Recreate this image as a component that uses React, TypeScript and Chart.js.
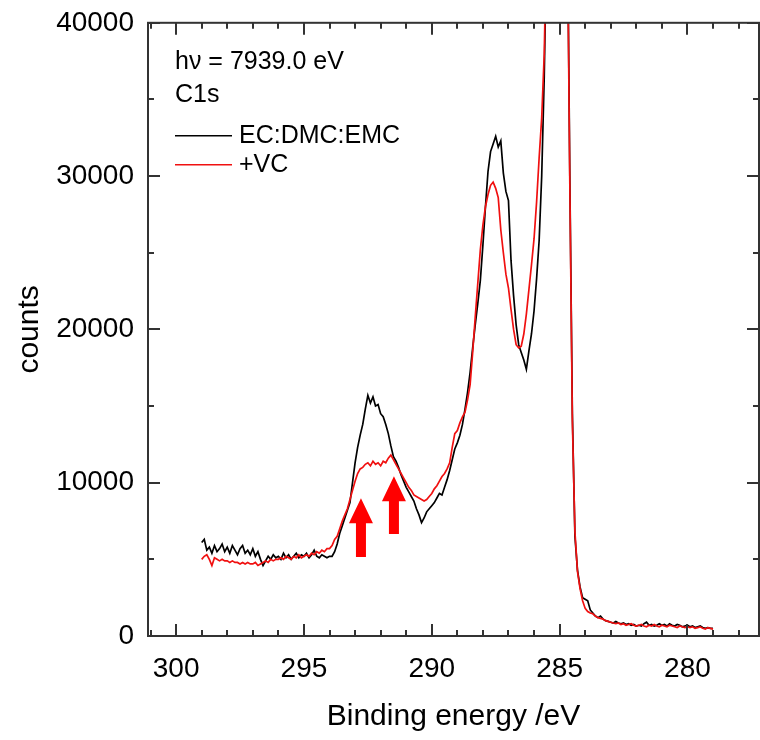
import { useEffect, useRef } from "react";
import { Chart, registerables } from "chart.js";

Chart.register(...registerables);

// Sampling grid of the spectra (binding energy, eV)
const ENERGY_START = 299.0;
const ENERGY_STEP = 0.1;

// EC:DMC:EMC (black)
const COUNTS_EC_DMC_EMC = [
  6100, 6300, 5600, 5800, 5400, 5900, 5500, 5700, 6000, 5500,
  5800, 5400, 5900, 5600, 5300, 5700, 5900, 5400, 5600, 5300,
  5700, 5200, 5500, 5000, 4600, 4900, 5200, 5000, 5300, 5100,
  5200, 5000, 5400, 5100, 5300, 5000, 5200, 5400, 5100, 5300,
  5200, 5400, 5100, 5300, 5600, 5200, 5100, 5300, 5200, 5100,
  5200, 5200, 5500, 6000, 6700, 7200, 7700, 8200, 8700, 10000,
  11300, 12300, 13100, 13800, 14800, 15700, 15200, 15600, 15000, 15100,
  14500, 14300, 13800, 13200, 12400, 11700, 11400, 11000, 10500, 10100,
  9700, 9400, 9100, 8800, 8300, 7900, 7400, 7700, 8100, 8300,
  8500, 8700, 9000, 9300, 9200, 9700, 10200, 10800, 11500, 12200,
  12600, 13100, 13800, 14800, 15900, 17200, 18800, 20300, 21700, 23200,
  25500, 28000, 30300, 31600, 32100, 32600, 31900, 32300, 30200, 29000,
  28400, 24500, 22200, 20300, 19000, 18500, 18000, 17400, 18600, 19700,
  21200, 23300, 25800, 30000, 36500, 46000, 60000, 75000, 88000, 95000,
  97000, 85000, 68000, 48000, 30000, 14500, 6500, 4300, 3200, 2500,
  2400, 2300, 1700, 1500, 1300, 1200, 1300, 1100, 1000, 950,
  900, 850, 950, 850, 800, 850, 750, 800, 700, 750,
  650, 700, 650, 800, 900, 700, 750, 650, 700, 800,
  700, 750, 650, 800, 700, 650, 750, 700, 600, 650,
  700, 600, 650, 550, 600, 650, 550, 500, 550, 500,
  500,
];

// +VC (red)
const COUNTS_VC = [
  5000, 5200, 5300, 5000, 4600, 5100, 5000, 4900, 5000, 4900,
  4900, 4800, 4900, 4800, 4800, 4700, 4800, 4700, 4800, 4700,
  4700, 4800, 4600, 4700, 4800, 4900, 4800, 5000, 4900, 5000,
  5000, 5100, 5000, 5200, 5100, 5000, 5200, 5100, 5300, 5100,
  5200, 5300, 5200, 5400, 5300, 5500, 5400, 5600, 5500, 5700,
  5700, 5900, 6300, 6500, 7000, 7500, 7900, 8300, 8900, 9500,
  10100, 10600, 10900, 11000, 11200, 11300, 11100, 11400, 11200, 11300,
  11100, 11400, 11300, 11600, 11800, 11500, 11200, 10900, 10600, 10300,
  10000, 9700, 9500, 9200, 9100, 9000, 8900, 8800, 8900, 9100,
  9300, 9600, 9800, 10100, 10400, 10600, 10900, 11300, 12300, 13200,
  13400, 13900, 14300, 14600, 15400, 16400, 18500, 20800, 23000, 25200,
  26800, 28000, 28800, 29400, 29600, 29200, 28600, 26500, 25000, 23600,
  22700, 21300, 20000, 19000, 18800, 18900, 19700, 21000, 22600, 24200,
  25900, 28300, 31200, 33800, 38000, 47000, 62000, 77000, 88000, 94000,
  96000, 84000, 67000, 47000, 29500, 14000, 6800, 4200, 3100, 2300,
  1800, 1600, 1500, 1450, 1300, 1200, 1150, 1100, 1000, 950,
  900, 850, 800, 850, 750, 800, 700, 750, 800, 700,
  650, 700, 750, 650, 600, 700, 650, 750, 650, 600,
  700, 650, 600, 700, 650, 600, 550, 650, 600, 550,
  600, 550, 600, 500, 550, 600, 500, 450, 550, 500,
  450,
];

const ENERGIES = COUNTS_EC_DMC_EMC.map((_, i) => +(ENERGY_START - i * ENERGY_STEP).toFixed(2));

const X_RANGE = [277.2, 301.1];
const Y_RANGE = [0, 40000];
const X_MAJOR_TICKS = [300, 295, 290, 285, 280];
const Y_MAJOR_TICKS = [0, 10000, 20000, 30000, 40000];

const SERIES_LABELS = ["EC:DMC:EMC", "+VC"];
const SERIES_COLORS = ["#000000", "#f01010"];
const ANNOTATION_LINES = ["h\u03bd = 7939.0 eV", "C1s"];

// Arrows (energy, base count, tip count)
const ARROW_ENERGIES = [292.77, 291.48];
const ARROW_BASE_COUNTS = [5150, 6650];
const ARROW_TIP_COUNTS = [8990, 10420];

const FONT = '"Liberation Sans", Arial, Helvetica, sans-serif';

const framePlugin = {
  id: "frame",
  afterDraw(chart: any) {
    const { ctx, chartArea: a, scales } = chart;
    const x = scales.x;
    const y = scales.y;
    ctx.save();
    ctx.strokeStyle = "#333333";
    ctx.lineWidth = 2;
    ctx.lineCap = "butt";
    ctx.strokeRect(a.left, a.top, a.right - a.left, a.bottom - a.top);
    const seg = (x1: number, y1: number, x2: number, y2: number) => {
      ctx.beginPath();
      ctx.moveTo(x1, y1);
      ctx.lineTo(x2, y2);
      ctx.stroke();
    };
    for (let v = Math.ceil(x.min); v <= x.max; v++) {
      const px = Math.round(x.getPixelForValue(v));
      const len = v % 5 === 0 ? 12 : 6;
      seg(px, a.bottom, px, a.bottom - len);
      seg(px, a.top, px, a.top + len);
    }
    for (let v = y.min; v <= y.max; v += 5000) {
      const py = Math.round(y.getPixelForValue(v));
      const len = v % 10000 === 0 ? 12 : 6;
      seg(a.left, py, a.left + len, py);
      seg(a.right, py, a.right - len, py);
    }
    ctx.restore();
  },
};

const annotationPlugin = {
  id: "annotations",
  afterDatasetsDraw(chart: any) {
    const { ctx, chartArea: a, scales } = chart;
    const x = scales.x;
    const y = scales.y;
    ctx.save();
    // arrows
    ctx.fillStyle = "#ff0000";
    const headLen = 25;
    const headHalf = 12;
    const shaftHalf = 5;
    ARROW_ENERGIES.forEach((e, i) => {
      const px = x.getPixelForValue(e);
      const yb = y.getPixelForValue(ARROW_BASE_COUNTS[i]);
      const yt = y.getPixelForValue(ARROW_TIP_COUNTS[i]);
      const yh = yt + headLen;
      ctx.beginPath();
      ctx.moveTo(px - shaftHalf, yb);
      ctx.lineTo(px - shaftHalf, yh);
      ctx.lineTo(px - headHalf, yh);
      ctx.lineTo(px, yt);
      ctx.lineTo(px + headHalf, yh);
      ctx.lineTo(px + shaftHalf, yh);
      ctx.lineTo(px + shaftHalf, yb);
      ctx.closePath();
      ctx.fill();
    });
    // text annotations and legend
    ctx.font = `25px ${FONT}`;
    ctx.textBaseline = "middle";
    ctx.textAlign = "left";
    ctx.fillStyle = "#000000";
    const tx = a.left + 27;
    ctx.fillText(ANNOTATION_LINES[0], tx, a.top + 39);
    ctx.fillText(ANNOTATION_LINES[1], tx, a.top + 72);
    SERIES_LABELS.forEach((label, i) => {
      const ly = a.top + 113 + i * 29;
      ctx.strokeStyle = SERIES_COLORS[i];
      ctx.lineWidth = 1.5;
      ctx.beginPath();
      ctx.moveTo(tx, ly);
      ctx.lineTo(tx + 57, ly);
      ctx.stroke();
      ctx.fillStyle = "#000000";
      ctx.fillText(label, tx + 64, ly);
    });
    ctx.restore();
  },
};

export default function App() {
  const canvasRef = useRef<HTMLCanvasElement | null>(null);

  useEffect(() => {
    if (!canvasRef.current) return;
    const chart = new Chart(canvasRef.current, {
      type: "line",
      data: {
        datasets: [
          {
            label: SERIES_LABELS[1],
            data: ENERGIES.map((e, i) => ({ x: e, y: COUNTS_VC[i] })),
            borderColor: SERIES_COLORS[1],
            borderWidth: 1.7,
            pointRadius: 0,
            tension: 0,
            order: 0,
          },
          {
            label: SERIES_LABELS[0],
            data: ENERGIES.map((e, i) => ({ x: e, y: COUNTS_EC_DMC_EMC[i] })),
            borderColor: SERIES_COLORS[0],
            borderWidth: 1.7,
            pointRadius: 0,
            tension: 0,
            order: 1,
          },
        ],
      },
      options: {
        animation: false,
        responsive: false,
        devicePixelRatio: 1,
        layout: { padding: { top: 12, right: 1, left: 0, bottom: 0 } },
        plugins: {
          legend: { display: false },
          tooltip: { enabled: false },
        },
        scales: {
          x: {
            type: "linear",
            reverse: true,
            min: X_RANGE[0],
            max: X_RANGE[1],
            grid: { display: false },
            border: { display: false },
            afterBuildTicks: (s: any) => {
              s.ticks = X_MAJOR_TICKS.map((v) => ({ value: v }));
            },
            afterFit: (s: any) => {
              s.height = 104;
            },
            ticks: {
              autoSkip: false,
              maxRotation: 0,
              padding: 8,
              color: "#000000",
              font: { family: FONT, size: 28 },
              callback: (v: any) => String(v),
            },
            title: {
              display: true,
              text: "Binding energy /eV",
              color: "#000000",
              font: { family: FONT, size: 30 },
              padding: { top: 0, bottom: 5 },
            },
          },
          y: {
            type: "linear",
            min: Y_RANGE[0],
            max: Y_RANGE[1],
            grid: { display: false },
            border: { display: false },
            afterBuildTicks: (s: any) => {
              s.ticks = Y_MAJOR_TICKS.map((v) => ({ value: v }));
            },
            afterFit: (s: any) => {
              s.width = 148;
            },
            ticks: {
              autoSkip: false,
              padding: 6,
              color: "#000000",
              font: { family: FONT, size: 28 },
              callback: (v: any) => String(v),
            },
            title: {
              display: true,
              text: "counts",
              color: "#000000",
              font: { family: FONT, size: 30 },
              padding: { top: 12, bottom: 0 },
            },
          },
        },
      },
      plugins: [framePlugin, annotationPlugin],
    } as any);
    return () => chart.destroy();
  }, []);

  return (
    <div style={{ position: "fixed", left: 0, top: 0, width: 760, height: 740, background: "#ffffff" }}>
      <canvas ref={canvasRef} width={760} height={740} />
    </div>
  );
}
